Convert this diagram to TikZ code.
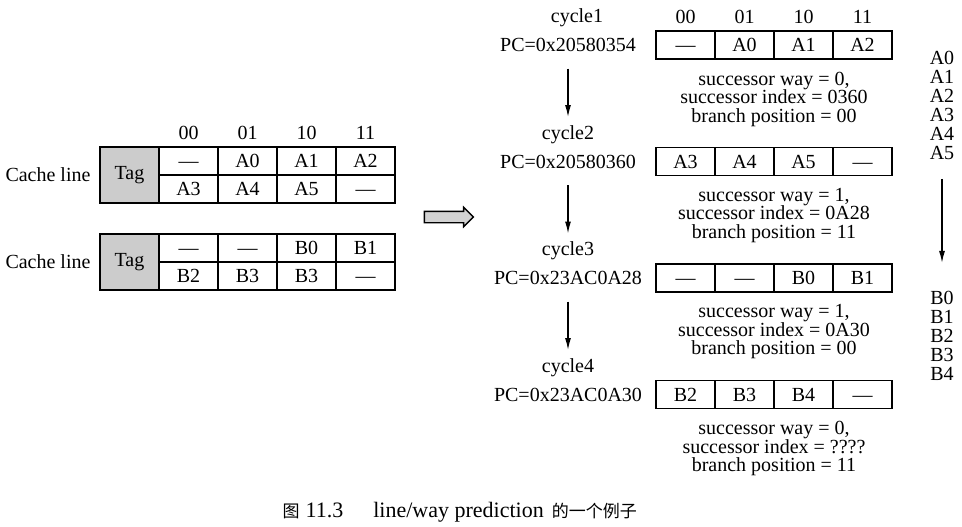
\documentclass[tikz,border=0pt]{standalone}
\usepackage{fontspec}
\setmainfont{Liberation Serif}
\newfontfamily\cjk{Noto Sans CJK SC}
\usetikzlibrary{positioning,shapes.arrows,arrows.meta}
\tikzset{>={Latex[length=6pt,width=3pt]}}
\tikzset{
  cell/.style={draw, minimum width=29.5pt, minimum height=14pt, inner sep=0pt, text height=6.6pt, text depth=0pt},
  tagcell/.style={draw, fill=gray!40, minimum width=29.5pt, minimum height=28pt, inner sep=0pt},
  info/.style={align=center, font=\fontsize{10}{9.25}\selectfont},
  addr/.style={align=center, font=\fontsize{10}{9.5}\selectfont}
}

\begin{document}
\begin{tikzpicture}[x=0.5pt, y=-0.5pt, line width=0.7pt]
      \useasboundingbox (0,0) rectangle (962,526);
      % cache line A
      \node[tagcell] (t1) at (129.5,175) {Tag};
      \node[left of=t1, node distance=40.75pt] (cl1) {Cache line};
      \node[cell] (l1) at (188.5,161) {—};
      \node[cell, right of=l1, node distance=29.5pt] (l2) {A0};
      \node[cell, right of=l2, node distance=29.5pt] (l3) {A1};
      \node[cell, right of=l3, node distance=29.5pt] (l4) {A2};
      \node[cell, below of=l1, node distance=14pt] (l5) {A3};
      \node[cell, right of=l5, node distance=29.5pt] (l6) {A4};
      \node[cell, right of=l6, node distance=29.5pt] (l7) {A5};
      \node[cell, right of=l7, node distance=29.5pt] (l8) {—};
      \node[above of=l1, node distance=14pt] (h1) {00};
      \node[above of=l2, node distance=14pt] (h2) {01};
      \node[above of=l3, node distance=14pt] (h3) {10};
      \node[above of=l4, node distance=14pt] (h4) {11};
      % cache line B
      \node[tagcell] (t2) at (129.5,262) {Tag};
      \node[left of=t2, node distance=40.75pt] (cl2) {Cache line};
      \node[cell] (m1) at (188.5,248) {—};
      \node[cell, right of=m1, node distance=29.5pt] (m2) {—};
      \node[cell, right of=m2, node distance=29.5pt] (m3) {B0};
      \node[cell, right of=m3, node distance=29.5pt] (m4) {B1};
      \node[cell, below of=m1, node distance=14pt] (m5) {B2};
      \node[cell, right of=m5, node distance=29.5pt] (m6) {B3};
      \node[cell, right of=m6, node distance=29.5pt] (m7) {B3};
      \node[cell, right of=m7, node distance=29.5pt] (m8) {—};
      \node[draw, fill=gray!35, single arrow, single arrow head extend=2pt, minimum height=24.5pt, inner sep=2.5pt] (big) at (446,217) {};
      % cycle 1
      \node[cell] (r1) at (685.5,45) {—};
      \node[cell, right of=r1, node distance=29.5pt] (r2) {A0};
      \node[cell, right of=r2, node distance=29.5pt] (r3) {A1};
      \node[cell, right of=r3, node distance=29.5pt] (r4) {A2};
      \node[above of=r1, node distance=14pt] (k1) {00};
      \node[above of=r2, node distance=14pt] (k2) {01};
      \node[above of=r3, node distance=14pt] (k3) {10};
      \node[above of=r4, node distance=14pt] (k4) {11};
      \node[left of=r1, node distance=58.75pt] (pc1) {PC=0x20580354};
      \node[above of=pc1, node distance=13.5pt, xshift=4.5pt] (cy1) {cycle1};
      \node[info, below of=r2, node distance=27pt, xshift=14.75pt] (d1) {successor way = 0,\\successor index = 0360\\branch position = 00};
      % cycle 2
      \node[cell, below of=r1, node distance=58.25pt] (s1) {A3};
      \node[cell, right of=s1, node distance=29.5pt] (s2) {A4};
      \node[cell, right of=s2, node distance=29.5pt] (s3) {A5};
      \node[cell, right of=s3, node distance=29.5pt] (s4) {—};
      \node[left of=s1, node distance=58.75pt] (pc2) {PC=0x20580360};
      \node[above of=pc2, node distance=13.5pt] (cy2) {cycle2};
      \node[info, below of=s2, node distance=27pt, xshift=14.75pt] (d2) {successor way = 1,\\successor index = 0A28\\branch position = 11};
      % cycle 3
      \node[cell, below of=s1, node distance=58.25pt] (u1) {—};
      \node[cell, right of=u1, node distance=29.5pt] (u2) {—};
      \node[cell, right of=u2, node distance=29.5pt] (u3) {B0};
      \node[cell, right of=u3, node distance=29.5pt] (u4) {B1};
      \node[left of=u1, node distance=58.75pt] (pc3) {PC=0x23AC0A28};
      \node[above of=pc3, node distance=13.5pt] (cy3) {cycle3};
      \node[info, below of=u2, node distance=27pt, xshift=14.75pt] (d3) {successor way = 1,\\successor index = 0A30\\branch position = 00};
      % cycle 4
      \node[cell, below of=u1, node distance=58.25pt] (v1) {B2};
      \node[cell, right of=v1, node distance=29.5pt] (v2) {B3};
      \node[cell, right of=v2, node distance=29.5pt] (v3) {B4};
      \node[cell, right of=v3, node distance=29.5pt] (v4) {—};
      \node[left of=v1, node distance=58.75pt] (pc4) {PC=0x23AC0A30};
      \node[above of=pc4, node distance=13.5pt] (cy4) {cycle4};
      \node[info, below of=v2, node distance=27pt, xshift=14.75pt] (d4) {successor way = 0,\\successor index = ????\\branch position = 11};
      \draw[->, shorten <=4.75pt, shorten >=0.5pt] (pc1) to (cy2);
      \draw[->, shorten <=4.75pt, shorten >=0.5pt] (pc2) to (cy3);
      \draw[->, shorten <=4.75pt, shorten >=0.5pt] (pc3) to (cy4);
      % fetched instructions
      \node[addr] (acol) at (942,105.5) {A0\\A1\\A2\\A3\\A4\\A5};
      \node[addr] (bcol) at (942,336) {B0\\B1\\B2\\B3\\B4};
      \draw[->, shorten <=5.9pt, shorten >=10.5pt] (acol) to (bcol);
      \node[anchor=west, inner sep=0pt, font=\fontsize{11}{12}\selectfont] (cap) at (282,512) {{\cjk\fontsize{8.5}{8.5}\selectfont 图}\hspace{3pt}11.3\hspace{15pt}line/way prediction\hspace{4pt}{\cjk\fontsize{8.5}{8.5}\selectfont 的一个例子}};
    \end{tikzpicture}
\end{document}
